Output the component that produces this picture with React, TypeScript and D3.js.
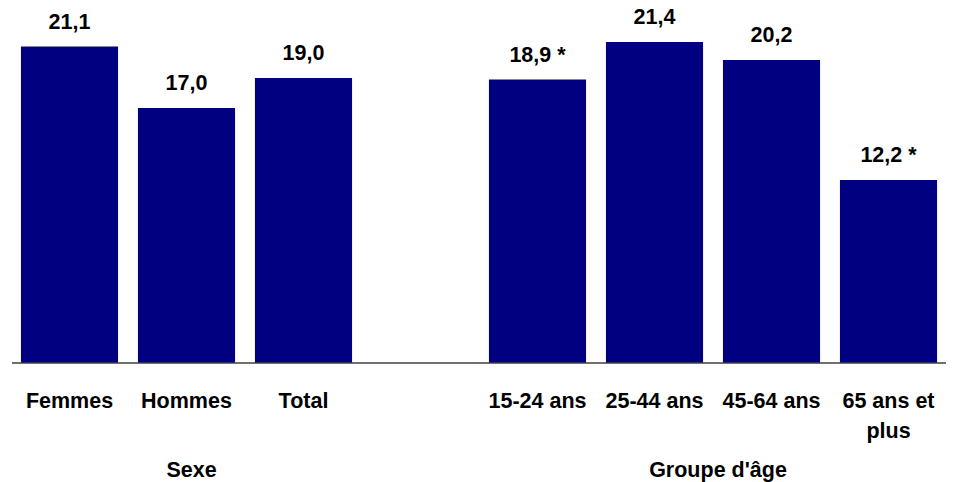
import React from "react";
import * as d3 from "d3";

const categories = ["Femmes", "Hommes", "Total", "", "15-24 ans", "25-44 ans", "45-64 ans", "65 ans et plus"];
const values: (number | null)[] = [21.1, 17.0, 19.0, null, 18.9, 21.4, 20.2, 12.2];
const valueLabels = ["21,1", "17,0", "19,0", "", "18,9 *", "21,4", "20,2", "12,2 *"];
const tickLines: string[][] = [["Femmes"], ["Hommes"], ["Total"], [], ["15-24 ans"], ["25-44 ans"], ["45-64 ans"], ["65 ans et", "plus"]];
const groups = [
  { label: "Sexe", cats: ["Femmes", "Hommes", "Total"] },
  { label: "Groupe d'âge", cats: ["15-24 ans", "25-44 ans", "45-64 ans", "65 ans et plus"] },
];

const W = 953;
const H = 482;
const baseY = 363;

export default function App() {
  const keys = categories.map((c, i) => c || "gap" + i);
  const x = d3.scaleBand<string>().domain(keys).range([11, 947]).paddingInner(0.17).paddingOuter(0.085);
  const y = d3.scaleLinear().domain([0, 24]).range([baseY, baseY - 24 * 15.0]);
  const font = "'Liberation Sans', Arial, sans-serif";
  const fs = 21.5;
  return (
    <svg width={W} height={H} style={{ position: "absolute", left: 0, top: 0, display: "block" }}>
      <rect width={W} height={H} fill="#fff" />
      {values.map((v, i) =>
        v == null ? null : (
          <g key={i}>
            <rect x={x(keys[i])} y={y(v)} width={x.bandwidth()} height={y(0) - y(v)} fill="#000080" />
            <text x={(x(keys[i]) as number) + x.bandwidth() / 2} y={y(v) - 18} textAnchor="middle" fontFamily={font} fontWeight="bold" fontSize={fs} fill="#000">
              {valueLabels[i]}
            </text>
          </g>
        )
      )}
      <line x1={12} x2={946} y1={baseY} y2={baseY} stroke="#404040" strokeWidth={1.5} />
      {tickLines.map((lines, i) =>
        lines.map((t, j) => (
          <text key={i + "-" + j} x={(x(keys[i]) as number) + x.bandwidth() / 2} y={408 + j * 30} textAnchor="middle" fontFamily={font} fontWeight="bold" fontSize={fs} fill="#000">
            {t}
          </text>
        ))
      )}
      {groups.map((g) => {
        const xs = g.cats.map((c) => (x(c) as number) + x.bandwidth() / 2);
        const cx = (d3.min(xs)! + d3.max(xs)!) / 2 + 5;
        return (
          <text key={g.label} x={cx} y={477} textAnchor="middle" fontFamily={font} fontWeight="bold" fontSize={fs} fill="#000">
            {g.label}
          </text>
        );
      })}
    </svg>
  );
}
